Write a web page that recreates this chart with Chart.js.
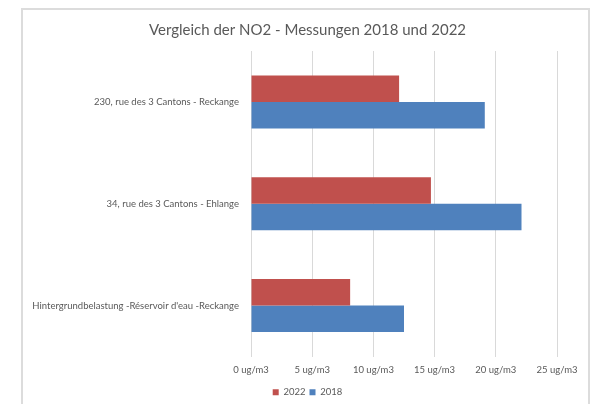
<!DOCTYPE html>
<html>
<head>
<meta charset="utf-8">
<script src="https://cdn.jsdelivr.net/npm/chart.js@4"></script>
<style>
  html, body { margin: 0; padding: 0; background: #fff; }
  #wrap { width: 595px; height: 404px; }
</style>
</head>
<body>
<div id="wrap"><canvas id="chart" width="595" height="404"></canvas></div>
<script>
const categories = [
    '230, rue des 3 Cantons - Reckange',
    '34, rue des 3 Cantons - Ehlange',
    "Hintergrundbelastung -Réservoir d'eau -Reckange"
];
const values2022 = [12.1, 14.7, 8.1];
const values2018 = [19.1, 22.1, 12.5];
const xTicks = [0, 5, 10, 15, 20, 25];

const textColor = '#595959';
const gridColor = '#d9d9d9';
const fontFamily = 'Lato, "Open Sans", sans-serif';

// light grey frame round the whole chart, like the Excel chart border
const framePlugin = {
    id: 'frame',
    beforeDraw(chart) {
        const ctx = chart.ctx;
        ctx.save();
        ctx.strokeStyle = '#dcdcdc';
        ctx.lineWidth = 2;
        ctx.strokeRect(22, 9, 567, 420);
        ctx.restore();
    }
};

// title and legend are centred on the frame, not on the plot area
const centrePlugin = {
    id: 'centre',
    afterLayout(chart) {
        const shift = 18;
        [chart.titleBlock, chart.legend].forEach(box => {
            if (box) {
                box.left += shift;
                box.right += shift;
            }
        });
        if (chart.legend) {
            chart.legend.top += 3;
            chart.legend.bottom += 3;
        }
    }
};

new Chart(document.getElementById('chart'), {
    type: 'bar',
    data: {
        labels: categories,
        datasets: [{
            label: '2022',
            data: values2022,
            backgroundColor: '#c0504d',
            borderWidth: 0,
            categoryPercentage: 0.52,
            barPercentage: 1.0
        }, {
            label: '2018',
            data: values2018,
            backgroundColor: '#4f81bd',
            borderWidth: 0,
            categoryPercentage: 0.52,
            barPercentage: 1.0
        }]
    },
    options: {
        indexAxis: 'y',
        responsive: false,
        animation: false,
        layout: {
            padding: { left: 22, right: 38, top: 0, bottom: 0 }
        },
        plugins: {
            title: {
                display: true,
                text: 'Vergleich der NO2 - Messungen 2018 und 2022',
                color: textColor,
                font: { family: fontFamily, size: 15, weight: 'normal' },
                padding: { top: 21, bottom: 12 }
            },
            legend: {
                position: 'bottom',
                labels: {
                    color: textColor,
                    font: { family: fontFamily, size: 9.5 },
                    boxWidth: 6,
                    boxHeight: 6,
                    padding: 4
                }
            },
            tooltip: { enabled: false }
        },
        scales: {
            x: {
                min: 0,
                max: 25,
                afterBuildTicks: function(scale) {
                    scale.ticks = xTicks.map(v => ({ value: v }));
                },
                grid: {
                    color: gridColor,
                    drawTicks: false
                },
                border: { display: false },
                ticks: {
                    color: textColor,
                    font: { family: fontFamily, size: 9.5 },
                    padding: 8,
                    maxRotation: 0,
                    callback: function(value) {
                        return value + ' ug/m3';
                    }
                },
                afterFit: function(scale) {
                    scale.height = 24;
                }
            },
            y: {
                grid: { display: false },
                border: { display: false },
                ticks: {
                    color: textColor,
                    font: { family: fontFamily, size: 9.5 },
                    padding: 4
                },
                afterFit: function(scale) {
                    scale.width = 229;
                }
            }
        }
    },
    plugins: [framePlugin, centrePlugin]
});
</script>
</body>
</html>
